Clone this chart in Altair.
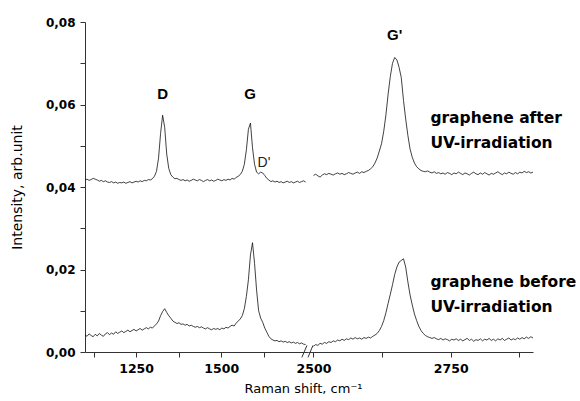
import altair as alt
import pandas as pd

# ---------------- data (intensity values in units of 1e-4) ----------------
# left segment of the broken x axis: 1100 ... 1748 cm-1, step 6
x_left = list(range(1100, 1749, 6))
after_left = [
    417, 419, 416, 418, 421, 419, 417, 414, 416, 413,
    415, 412, 411, 413, 410, 412, 409, 411, 410, 412,
    409, 411, 413, 410, 412, 414, 412, 415, 413, 416,
    415, 418, 417, 420, 426, 438, 470, 530, 574, 545,
    480, 445, 430, 424, 420, 421, 418, 416, 418, 415,
    417, 414, 416, 419, 417, 415, 418, 416, 413, 416,
    418, 415, 417, 414, 416, 419, 417, 415, 418, 416,
    419, 417, 421, 419, 423, 426, 430, 438, 455, 490,
    540, 555, 495, 455, 436, 432, 436, 434, 428, 421,
    417, 413, 415, 412, 414, 411, 413, 410, 412, 414,
    411, 413, 410, 412, 414, 411, 413, 415, 412,
]
before_left = [
    42, 38, 44, 40, 37, 43, 39, 45, 41, 38,
    44, 47, 42, 46, 43, 49, 45, 48, 51, 47,
    50, 53, 49, 52, 55, 51, 54, 57, 53, 56,
    59, 56, 60, 58, 63, 68, 75, 88, 98, 105,
    96, 88, 82, 75, 72, 69, 71, 67, 68, 65,
    67, 63, 65, 62, 60, 62, 59, 61, 58, 56,
    59, 56, 54, 57, 55, 57, 54, 58, 56, 60,
    58, 62, 65, 63, 70, 75, 80, 88, 105, 135,
    175, 235, 265, 215, 150, 100, 82, 72, 58, 48,
    38, 32, 29, 27, 28, 25, 27, 24, 26, 23,
    25, 22, 24, 21, 23, 20, 22, 19, 18,
]

# right segment: 2500 ... 2900 cm-1, step 4
x_right = list(range(2500, 2901, 4))
after_right = [
    428, 431, 427, 424, 429, 432, 430, 433, 431, 429,
    432, 434, 431, 433, 430, 432, 435, 433, 431, 434,
    436, 433, 437, 435, 438, 440, 444, 449, 458, 470,
    487, 505, 535, 575, 625, 668, 700, 714, 708, 690,
    665, 610, 565, 525, 492, 472, 458, 449, 444, 440,
    438, 437, 439, 436, 434, 437, 433, 435, 432, 434,
    431, 435, 433, 430, 434, 432, 436, 433, 430, 434,
    432, 429, 433, 436, 432, 430, 434, 431, 435, 432,
    429, 433, 431, 434, 437, 433, 430, 434, 432, 436,
    433, 431, 435, 432, 436, 434, 438, 435, 437, 434,
    436,
]
before_right = [
    14, 18, 16, 21, 19, 23, 21, 25, 23, 27,
    25, 29, 27, 31, 28, 32, 30, 34, 31, 35,
    32, 34, 31, 35, 33, 36, 34, 38, 41, 45,
    52, 62, 76, 95, 118, 140, 163, 188, 206, 218,
    222, 226, 206, 170, 138, 114, 92, 76, 62, 52,
    45, 40, 37, 35, 33, 35, 32, 30, 33, 29,
    32, 30, 27, 31, 29, 32, 28, 31, 27, 30,
    33, 28, 31, 26, 30, 28, 32, 27, 31, 29,
    33, 28, 31, 27, 32, 29, 33, 28, 31, 34,
    29, 32, 30, 34, 31, 35, 32, 36, 33, 37,
    34,
]

# annotations
left_labels = ["D", "G"]
left_label_x = [1328, 1585]
left_label_y = [0.0625, 0.0625]
small_label = ["D'"]
small_label_x = [1607]
small_label_y = [0.0458]
right_labels = ["G'"]
right_label_x = [2648]
right_label_y = [0.0768]
legend_lines = ["graphene after", "UV-irradiation", "graphene before", "UV-irradiation"]
legend_x = [2713, 2713, 2713, 2713]
legend_y = [0.0555, 0.0495, 0.01576, 0.0097]

FONT = "DejaVu Sans"
W_L, W_R, H = 223, 225, 330
LINE = "#111111"

left_df = pd.DataFrame({
    "x": x_left + x_left,
    "v": [a / 1e4 for a in after_left] + [b / 1e4 for b in before_left],
    "s": ["after"] * len(x_left) + ["before"] * len(x_left),
})
right_df = pd.DataFrame({
    "x": x_right + x_right,
    "v": [a / 1e4 for a in after_right] + [b / 1e4 for b in before_right],
    "s": ["after"] * len(x_right) + ["before"] * len(x_right),
})

yscale = alt.Scale(domain=[0, 0.08], nice=False, zero=False)
ylabel = "round(datum.value*100) % 2 == 0 ? replace(format(datum.value, '.2f'), '.', ',') : ''"

y_left = alt.Y(
    "v:Q", scale=yscale,
    axis=alt.Axis(
        values=[i / 100 for i in range(9)], labelExpr=ylabel, grid=False,
        tickSize=5, labelPadding=5, labelFont=FONT, labelFontSize=12,
        labelFontWeight="bold", labelColor="#000",
        title="Intensity, arb.unit", titleFont=FONT, titleFontSize=14,
        titleFontWeight="normal", titleColor="#000", titlePadding=21,
        domainColor="#333", tickColor="#333",
    ),
)
y_right = alt.Y("v:Q", scale=yscale, axis=None)

x_left_enc = alt.X(
    "x:Q", scale=alt.Scale(domain=[1100, 1755], nice=False, zero=False),
    axis=alt.Axis(
        values=[1125, 1250, 1375, 1500, 1625], format="d",
        labelExpr="datum.value % 250 == 0 ? datum.label : ''",
        grid=False, tickSize=5, labelPadding=5, labelFont=FONT,
        labelFontSize=12.5, labelFontWeight="bold", labelColor="#000",
        labelFlush=False, labelOverlap=False,
        title="Raman shift, cm⁻¹", titleFont=FONT, titleFontSize=13,
        titleFontWeight="normal", titleColor="#000", titleX=218, titlePadding=8,
        domainColor="#333", tickColor="#333",
    ),
)
x_right_enc = alt.X(
    "x:Q", scale=alt.Scale(domain=[2490, 2900], nice=False, zero=False),
    axis=alt.Axis(
        values=[2500, 2625, 2750, 2875], format="d",
        labelExpr="datum.value % 250 == 0 ? datum.label : ''",
        grid=False, tickSize=5, labelPadding=5, labelFont=FONT,
        labelFontSize=12.5, labelFontWeight="bold", labelColor="#000",
        labelFlush=False, labelOverlap=False, title=None,
        domainColor="#333", tickColor="#333",
    ),
)

left_lines = alt.Chart(left_df).mark_line(color=LINE, strokeWidth=0.8).encode(
    x=x_left_enc, y=y_left, detail="s:N")
right_lines = alt.Chart(right_df).mark_line(color=LINE, strokeWidth=0.8).encode(
    x=x_right_enc, y=y_right, detail="s:N")

lab_l = alt.Chart(pd.DataFrame({"t": left_labels, "x": left_label_x, "v": left_label_y})).mark_text(
    font="Liberation Sans", fontSize=15, fontWeight="bold", color="#000", baseline="middle"
).encode(x=x_left_enc, y=y_left, text="t:N")
lab_s = alt.Chart(pd.DataFrame({"t": small_label, "x": small_label_x, "v": small_label_y})).mark_text(
    font="Liberation Sans", fontSize=14, color="#222", align="left", baseline="middle"
).encode(x=x_left_enc, y=y_left, text="t:N")
lab_r = alt.Chart(pd.DataFrame({"t": right_labels, "x": right_label_x, "v": right_label_y})).mark_text(
    font="Liberation Sans", fontSize=15, fontWeight="bold", color="#000", baseline="middle"
).encode(x=x_right_enc, y=y_right, text="t:N")
legend = alt.Chart(pd.DataFrame({"t": legend_lines, "x": legend_x, "v": legend_y})).mark_text(
    font=FONT, fontSize=15.5, fontWeight="bold", color="#000", align="left", baseline="alphabetic"
).encode(x=x_right_enc, y=y_right, text="t:N")

# axis break marks "//"
brk_l = alt.Chart(pd.DataFrame({"x": [1737], "x2": [1752], "v": [-0.0013], "v2": [0.0016]})).mark_rule(
    color="#333", strokeWidth=1, clip=False).encode(x=x_left_enc, x2="x2:Q", y=y_left, y2="v2:Q")
brk_r = alt.Chart(pd.DataFrame({"x": [2490], "x2": [2499], "v": [-0.0013], "v2": [0.0016]})).mark_rule(
    color="#333", strokeWidth=1, clip=False).encode(x=x_right_enc, x2="x2:Q", y=y_right, y2="v2:Q")

left = alt.layer(left_lines, lab_l, lab_s, brk_l).properties(width=W_L, height=H)
right = alt.layer(right_lines, lab_r, legend, brk_r).properties(width=W_R, height=H)

chart = alt.hconcat(left, right, spacing=0, bounds="flush").properties(
    padding={"left": 10, "top": 16, "right": 0, "bottom": 2}
).configure(background="white", view=alt.ViewConfig(stroke=None))

chart.save("out.html", embed_options={"renderer": "svg", "actions": False})
